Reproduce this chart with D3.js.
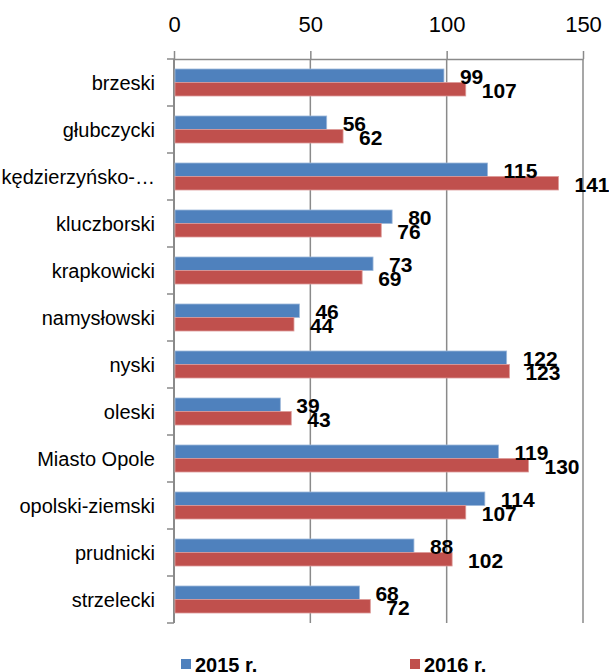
<!DOCTYPE html>
<html>
<head>
<meta charset="utf-8">
<script src="https://cdn.jsdelivr.net/npm/d3@7"></script>
<style>
  html, body { margin: 0; padding: 0; background: #fff; }
  svg { display: block; font-family: "Liberation Sans", Arial, sans-serif; }
</style>
</head>
<body>
<svg id="chart" width="609" height="672"></svg>
<script>
// Powiaty (districts) of the Opole voivodeship
const categories = [
  "brzeski", "głubczycki", "kędzierzyńsko-kozielski", "kluczborski",
  "krapkowicki", "namysłowski", "nyski", "oleski", "Miasto Opole",
  "opolski-ziemski", "prudnicki", "strzelecki"
];
const seriesNames = ["2015 r.", "2016 r."];
const values2015 = [99, 56, 115, 80, 73, 46, 122, 39, 119, 114, 88, 68];
const values2016 = [107, 62, 141, 76, 69, 44, 123, 43, 130, 107, 102, 72];
const seriesColors = ["#4F81BD", "#C0504D"];
const seriesStroke = ["#9db8da", "#dc9a98"];
const tickValues = [0, 50, 100, 150];

const rows = categories.map((c, i) => ({ cat: c, vals: [values2015[i], values2016[i]] }));

const svg = d3.select("#chart");
const gridColor = "#8a8a8a";

const x = d3.scaleLinear().domain([0, 150]).range([174, 583]);
const pad = 20 / 47;
const y = d3.scaleBand().domain(categories).range([59, 623])
  .paddingInner(pad).paddingOuter(pad / 2);
const ys = d3.scaleBand().domain(seriesNames).range([0, y.bandwidth()]);

// vertical gridlines
svg.append("g").selectAll("line")
  .data(tickValues.filter(t => t > 0))
  .join("line")
  .attr("x1", d => x(d)).attr("x2", d => x(d))
  .attr("y1", 59).attr("y2", 623)
  .attr("stroke", gridColor).attr("stroke-width", 1.5);

// top value axis
const topAxis = svg.append("g")
  .attr("transform", "translate(0,59)")
  .call(d3.axisTop(x).tickValues(tickValues).tickSize(8).tickSizeOuter(0).tickPadding(19));
topAxis.select(".domain").attr("stroke", gridColor).attr("stroke-width", 1.5);
topAxis.selectAll(".tick line").attr("stroke", gridColor).attr("stroke-width", 1.5);
topAxis.selectAll(".tick text")
  .attr("font-size", 22).attr("fill", "#000")
  .attr("font-family", "Liberation Sans, Arial, sans-serif");

// left category axis line and boundary ticks
const step = y.step();
const bounds = categories.map(c => y(c) - step * y.paddingInner() / 2);
bounds.push(y.range()[1]);
svg.append("line")
  .attr("x1", x(0)).attr("x2", x(0))
  .attr("y1", 59).attr("y2", 623)
  .attr("stroke", gridColor).attr("stroke-width", 2);
svg.append("g").selectAll("line")
  .data(bounds)
  .join("line")
  .attr("x1", x(0) - 7).attr("x2", x(0))
  .attr("y1", d => d).attr("y2", d => d)
  .attr("stroke", gridColor).attr("stroke-width", 1.5);

// category labels, shortened with an ellipsis when too wide
const catLabels = svg.append("g").selectAll("text")
  .data(categories)
  .join("text")
  .attr("x", 155)
  .attr("y", d => y(d) + y.bandwidth() / 2)
  .attr("dy", "0.35em")
  .attr("text-anchor", "end")
  .attr("font-size", 20)
  .attr("fill", "#000")
  .text(d => d);
catLabels.each(function(d) {
  const t = d3.select(this);
  if (this.getComputedTextLength() > 150 && d.includes("-")) {
    t.text(d.slice(0, d.indexOf("-") + 1) + "…");
  }
});

// bars
const groups = svg.append("g").selectAll("g")
  .data(rows)
  .join("g")
  .attr("transform", d => `translate(0,${y(d.cat)})`);

groups.selectAll("rect")
  .data(d => d.vals.map((v, i) => ({ v, s: seriesNames[i], i })))
  .join("rect")
  .attr("x", x(0) + 1)
  .attr("y", d => ys(d.s))
  .attr("width", d => x(d.v) - x(0) - 1)
  .attr("height", ys.bandwidth())
  .attr("fill", d => seriesColors[d.i])
  .attr("stroke", d => seriesStroke[d.i])
  .attr("stroke-width", 0.8);

// value labels
groups.selectAll("text")
  .data(d => d.vals.map((v, i) => ({ v, s: seriesNames[i], i })))
  .join("text")
  .attr("x", d => x(d.v) + 16)
  .attr("y", d => ys(d.s) + ys.bandwidth() / 2 + 1)
  .attr("dy", "0.35em")
  .attr("font-size", 21)
  .attr("font-weight", "bold")
  .attr("fill", "#000")
  .text(d => d.v);

// legend
const legendX = [181, 410];
const legend = svg.append("g").selectAll("g")
  .data(seriesNames)
  .join("g")
  .attr("transform", (d, i) => `translate(${legendX[i]},659)`);
legend.append("rect")
  .attr("width", 10).attr("height", 10)
  .attr("fill", (d, i) => seriesColors[i]);
legend.append("text")
  .attr("x", 14).attr("y", 13)
  .attr("font-size", 20).attr("font-weight", "bold")
  .attr("fill", "#000")
  .text(d => d);
</script>
</body>
</html>
